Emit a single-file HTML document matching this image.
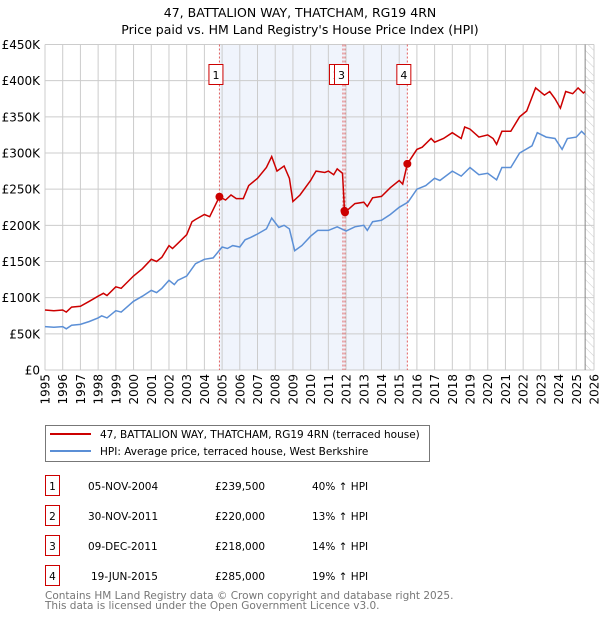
<!DOCTYPE html>
<html><head><meta charset="utf-8"><style>
body{margin:0;background:#fff;font-family:"Liberation Sans","DejaVu Sans",sans-serif;}
svg text{font-family:"DejaVu Sans","Liberation Sans",sans-serif;}
</style></head><body>
<svg id="c" width="600" height="620" viewBox="0 0 600 620">
<text x="300" y="17" text-anchor="middle" font-size="12.5" fill="#000">47, BATTALION WAY, THATCHAM, RG19 4RN</text>
<text x="300" y="34" text-anchor="middle" font-size="12.5" fill="#000">Price paid vs. HM Land Registry's House Price Index (HPI)</text>
<defs><pattern id="hatch" width="6" height="6" patternUnits="userSpaceOnUse" patternTransform="rotate(-45)"><line x1="0" y1="0" x2="0" y2="6" stroke="#ccc" stroke-width="1"/></pattern></defs>
<g id="grid"></g>
<g id="marks"></g>
<g>
<rect x="45.5" y="425.5" width="384" height="36" fill="#fff" stroke="#777"/>
<line x1="50" y1="434" x2="91" y2="434" stroke="#cc0000" stroke-width="2"/>
<text x="100" y="438" font-size="10.5">47, BATTALION WAY, THATCHAM, RG19 4RN (terraced house)</text>
<line x1="50" y1="451" x2="91" y2="451" stroke="#5b8fd6" stroke-width="2"/>
<text x="100" y="455" font-size="10.5">HPI: Average price, terraced house, West Berkshire</text>
</g>
<g id="table" font-size="10.5"></g>
<text x="45" y="599" font-size="10.5" fill="#777">Contains HM Land Registry data © Crown copyright and database right 2025.</text>
<text x="45" y="609" font-size="10.5" fill="#777">This data is licensed under the Open Government Licence v3.0.</text>
</svg>
<script>
const yTicks=[0,50000,100000,150000,200000,250000,300000,350000,400000,450000];
const yTickLabels=["£0","£50K","£100K","£150K","£200K","£250K","£300K","£350K","£400K","£450K"];
const xYears=[1995,1996,1997,1998,1999,2000,2001,2002,2003,2004,2005,2006,2007,2008,2009,2010,2011,2012,2013,2014,2015,2016,2017,2018,2019,2020,2021,2022,2023,2024,2025,2026];
const hpiT=[1995,1995.5,1996,1996.2,1996.5,1997,1997.5,1998,1998.2,1998.5,1999,1999.3,2000,2000.5,2001,2001.3,2001.6,2002,2002.3,2002.5,2003,2003.5,2004,2004.5,2005,2005.3,2005.6,2006,2006.3,2006.6,2007,2007.5,2007.8,2008.2,2008.5,2008.8,2009.1,2009.5,2010,2010.4,2011,2011.5,2012,2012.5,2013,2013.2,2013.5,2014,2014.5,2015,2015.5,2016,2016.5,2017,2017.3,2018,2018.5,2019,2019.5,2020,2020.5,2020.8,2021.3,2021.8,2022.5,2022.8,2023.3,2023.8,2024.2,2024.5,2025,2025.3,2025.5];
const hpiV=[60000,59000,60000,57000,62000,63000,67000,72000,75000,72000,82000,80000,95000,102000,110000,107000,113000,124000,118000,124000,130000,147000,153000,155000,170000,168000,172000,170000,180000,183000,188000,195000,210000,197000,200000,195000,165000,172000,185000,193000,193000,198000,192000,198000,200000,193000,205000,207000,215000,225000,232000,250000,255000,265000,262000,275000,268000,280000,270000,272000,263000,280000,280000,300000,310000,328000,322000,320000,305000,320000,322000,330000,325000];
const propT=[1995,1995.5,1996,1996.2,1996.5,1997,1997.5,1998,1998.3,1998.5,1999,1999.3,2000,2000.5,2001,2001.3,2001.6,2002,2002.2,2002.5,2003,2003.3,2003.5,2004,2004.3,2004.85,2005.2,2005.5,2005.8,2006.2,2006.5,2007,2007.5,2007.8,2008.1,2008.5,2008.8,2009,2009.4,2010,2010.3,2010.8,2011,2011.3,2011.5,2011.8,2011.91,2011.94,2012.5,2013,2013.2,2013.5,2014,2014.5,2015,2015.2,2015.46,2016,2016.3,2016.8,2017,2017.5,2018,2018.5,2018.7,2019,2019.5,2020,2020.3,2020.5,2020.8,2021.3,2021.8,2022.2,2022.7,2023.2,2023.5,2023.8,2024.1,2024.4,2024.8,2025.1,2025.4,2025.5];
const propV=[83000,82000,83000,80000,87000,88000,95000,102000,106000,103000,115000,113000,130000,140000,153000,150000,156000,172000,168000,175000,187000,205000,208000,215000,212000,239500,235000,242000,237000,237000,255000,265000,280000,295000,275000,282000,265000,233000,242000,262000,275000,273000,275000,270000,278000,272000,220000,218000,230000,232000,226000,238000,240000,252000,262000,257000,285000,305000,308000,320000,315000,320000,328000,320000,336000,333000,322000,325000,320000,312000,330000,330000,350000,358000,390000,380000,385000,375000,362000,385000,382000,390000,383000,385000];
const saleIds=["1","2","3","4"];
const saleT=[2004.85,2011.91,2011.94,2015.46];
const saleV=[239500,220000,218000,285000];
const saleDates=["05-NOV-2004","30-NOV-2011","09-DEC-2011","19-JUN-2015"];
const salePrices=["£239,500","£220,000","£218,000","£285,000"];
const saleHpi=["40% ↑ HPI","13% ↑ HPI","14% ↑ HPI","19% ↑ HPI"];
const X0=45,X1=594,Y0=370,Y1=44.5;
const xs=t=>X0+(t-1995)/(2026-1995)*(X1-X0);
const ys=v=>Y0-v/450000*(Y0-Y1);
const NS="http://www.w3.org/2000/svg";
function mk(tag,attrs,parent){const e=document.createElementNS(NS,tag);for(const k in attrs)e.setAttribute(k,attrs[k]);parent.appendChild(e);return e;}
const grid=document.getElementById('grid'),marks=document.getElementById('marks'),tbl=document.getElementById('table');
let r=mk('rect',{x:X0,y:Y1,width:X1-X0,height:Y0-Y1,fill:'#fff'},grid);


r=mk('rect',{x:xs(saleT[0]),y:Y1,width:xs(saleT[3])-xs(saleT[0]),height:Y0-Y1,fill:'#f0f4fc'},grid);


r=mk('rect',{x:xs(2025.5),y:Y1,width:X1-xs(2025.5),height:Y0-Y1,fill:'url(#hatch)'},grid);


yTicks.forEach((v,i)=>{
 const l=mk('line',{x1:X0,x2:X1,y1:ys(v),y2:ys(v),stroke:'#ccc','stroke-width':1},grid);
 
 
 const t=mk('text',{x:40,y:ys(v)+4.5,'text-anchor':'end','font-size':12},grid);t.textContent=yTickLabels[i];
 
 
});
xYears.forEach(yr=>{
 const l=mk('line',{x1:xs(yr),x2:xs(yr),y1:Y1,y2:Y0,stroke:'#ccc','stroke-width':1},grid);
 
 
 const x=xs(yr)+4.5,y=374;
 const t=mk('text',{x:x,y:y,'text-anchor':'end','font-size':12,transform:`rotate(-90 ${x} ${y})`},grid);t.textContent=yr;
 
 
});
let l=mk('line',{x1:xs(2025.5),x2:xs(2025.5),y1:Y1,y2:Y0,stroke:'#888','stroke-width':1},grid);


saleT.forEach((t,i)=>{
 const v=mk('line',{x1:xs(t)+(i===1?-1.5:0),x2:xs(t)+(i===1?-1.5:0),y1:Y1,y2:Y0,stroke:'#e06060','stroke-width':1,'stroke-dasharray':'2,2'},marks);
 
 
});
let p=mk('path',{d:hpiT.map((t,i)=>(i?'L':'M')+xs(t).toFixed(1)+','+ys(hpiV[i]).toFixed(1)).join(''),fill:'none',stroke:'#5b8fd6','stroke-width':1.5},marks);


p=mk('path',{d:propT.map((t,i)=>(i?'L':'M')+xs(t).toFixed(1)+','+ys(propV[i]).toFixed(1)).join(''),fill:'none',stroke:'#cc0000','stroke-width':1.5},marks);


saleT.forEach((t,i)=>{
 const c=mk('circle',{cx:xs(t),cy:ys(saleV[i]),r:4,fill:'#cc0000'},marks);
 
 
});
const boxOff=[-3.5,-6,-3.5,-3.5];
[1,0,2,3].forEach(i=>{
 const cx=xs(saleT[i])+boxOff[i]+(i===1?-2:0);
 const g=mk('g',{},marks);
 
 
 mk('rect',{x:cx-7,y:64.5,width:14,height:20,fill:'#fff',stroke:'#cc0000'},g);
 const tx=mk('text',{x:cx,y:79,'text-anchor':'middle','font-size':11},g);tx.textContent=saleIds[i];
});
saleIds.forEach((id,i)=>{
 const y=475+i*30;
 const g=mk('g',{},tbl);
 
 
 mk('rect',{x:45.5,y:y+0.5,width:14,height:20,fill:'#fff',stroke:'#cc0000'},g);
 let t=mk('text',{x:52.5,y:y+15,'text-anchor':'middle'},g);t.textContent=id;
 t=mk('text',{x:88+(i===3?3:0),y:y+15},g);t.textContent=saleDates[i];
 t=mk('text',{x:215,y:y+15},g);t.textContent=salePrices[i];
 t=mk('text',{x:312,y:y+15},g);t.textContent=saleHpi[i];
});
</script>
</body></html>
